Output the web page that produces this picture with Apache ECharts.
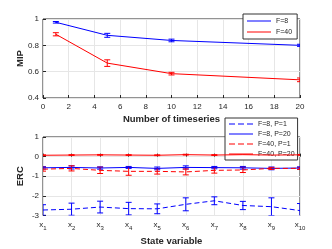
<!DOCTYPE html>
<html>
<head>
<meta charset="utf-8">
<script src="https://cdn.jsdelivr.net/npm/echarts@6/dist/echarts.min.js"></script>
<style>html,body{margin:0;padding:0;background:#fff}#c{width:332px;height:249px}</style>
</head>
<body>
<div id="c"></div>
<script>
// ---- Top panel data ----
var topX = [1, 5, 10, 20];
var mipF8 = [0.975, 0.876, 0.837, 0.80];
var mipF8Err = [0.006, 0.015, 0.01, 0.008];
var mipF40 = [0.884, 0.665, 0.585, 0.538];
var mipF40Err = [0.012, 0.025, 0.01, 0.014];
var topXTicks = [0, 2, 4, 6, 8, 10, 12, 14, 16, 18, 20];

// ---- Bottom panel data ----
var stateVars = ['1', '2', '3', '4', '5', '6', '7', '8', '9', '10'];
var ercF8P1 = [-2.72, -2.68, -2.57, -2.65, -2.66, -2.43, -2.25, -2.49, -2.55, -2.75];
var ercF8P1Err = [0.27, 0.31, 0.3, 0.32, 0.25, 0.33, 0.2, 0.21, 0.45, 0.36];
var ercF8P20 = [-0.57, -0.55, -0.58, -0.55, -0.6, -0.55, -0.56, -0.57, -0.6, -0.58];
var ercF8P20Err = [0.06, 0.08, 0.06, 0.05, 0.07, 0.08, 0.06, 0.07, 0.07, 0.06];
var ercF40P1 = [-0.64, -0.6, -0.7, -0.75, -0.75, -0.78, -0.7, -0.68, -0.6, -0.6];
var ercF40P1Err = [0.1, 0.13, 0.16, 0.2, 0.14, 0.15, 0.14, 0.13, 0.05, 0.05];
var ercF40P20 = [0.07, 0.08, 0.09, 0.08, 0.07, 0.1, 0.08, 0.1, 0.08, 0.09];
var ercF40P20Err = [0.02, 0.02, 0.02, 0.02, 0.02, 0.02, 0.02, 0.02, 0.02, 0.02];

var BLUE = '#0000ff', RED = '#ff0000';
var FONT = 'Liberation Sans';
var TXT = '#262626';
var DASH = [5, 3];

function errData(xs, ys, es) {
  return ys.map(function (y, i) { return [xs[i], y - es[i], y + es[i]]; });
}
function errSeries(name, data, color, xi, yi, cap) {
  return {
    type: 'custom', name: name, xAxisIndex: xi, yAxisIndex: yi, clip: true, z: 3,
    silent: true,
    renderItem: function (params, api) {
      var x = api.value(0);
      var lo = api.coord([x, api.value(1)]);
      var hi = api.coord([x, api.value(2)]);
      var st = { stroke: color, lineWidth: 1 };
      return {
        type: 'group', children: [
          { type: 'line', shape: { x1: lo[0], y1: lo[1], x2: hi[0], y2: hi[1] }, style: st },
          { type: 'line', shape: { x1: lo[0] - cap, y1: lo[1], x2: lo[0] + cap, y2: lo[1] }, style: st },
          { type: 'line', shape: { x1: hi[0] - cap, y1: hi[1], x2: hi[0] + cap, y2: hi[1] }, style: st }
        ]
      };
    },
    encode: { x: 0, y: [1, 2] },
    data: data
  };
}
function lineSeries(name, xs, ys, color, dashed, xi, yi) {
  return {
    type: 'line', name: name, xAxisIndex: xi, yAxisIndex: yi,
    data: ys.map(function (y, i) { return [xs[i], y]; }),
    symbol: 'none', z: 4,
    lineStyle: { color: color, width: 1, type: dashed ? DASH : 'solid' },
    itemStyle: { color: color }
  };
}
var DASH_ICON = 'path://M0,0h6v1h-6z M9,0h6v1h-6z M18,0h6v1h-6z';
function legendItem(name, color, dashed) {
  return { name: name, icon: dashed ? DASH_ICON : 'rect', itemStyle: { color: color, opacity: 1, borderWidth: 0 } };
}

var stateX = stateVars.map(function (s) { return Number(s); });

var axisLabelStyle = { fontFamily: FONT, fontSize: 8, color: TXT };
var gridLine = { show: true, lineStyle: { color: '#e6e6e6', width: 1 } };
var legendCommon = {
  orient: 'vertical', itemWidth: 24, itemHeight: 1, itemGap: 2,
  backgroundColor: '#fff', borderColor: '#333', borderWidth: 1, borderRadius: 0,
  textStyle: { fontFamily: FONT, fontSize: 7, color: TXT, lineHeight: 8 }
};

var option = {
  animation: false,
  backgroundColor: '#fff',
  grid: [
    { left: 43, top: 19, width: 257, height: 79, show: true, borderColor: '#262626', borderWidth: 1, backgroundColor: '#fff' },
    { left: 43, top: 137, width: 257, height: 78.5, show: true, borderColor: '#262626', borderWidth: 1, backgroundColor: '#fff' }
  ],
  xAxis: [
    {
      type: 'value', gridIndex: 0, min: 0, max: 20, interval: 2,
      axisLine: { show: false }, axisTick: { show: true, inside: true, length: 3, lineStyle: { color: '#262626' } },
      splitLine: gridLine,
      axisLabel: Object.assign({ margin: 5, formatter: function (v) { return topXTicks.indexOf(v) >= 0 ? String(v) : ''; } }, axisLabelStyle),
      name: 'Number of timeseries', nameLocation: 'middle', nameGap: 16,
      nameTextStyle: { fontFamily: FONT, fontSize: 9.5, fontWeight: 'bold', color: TXT }
    },
    {
      type: 'value', gridIndex: 1, min: 1, max: 10, interval: 1,
      axisLine: { show: false }, axisTick: { show: true, inside: true, length: 3, lineStyle: { color: '#262626' } },
      splitLine: gridLine,
      axisLabel: {
        margin: 5,
        formatter: function (v) { return '{a|x}{b|' + stateVars[v - 1] + '}'; },
        rich: {
          a: { fontFamily: FONT, fontSize: 8, color: TXT, padding: [0, 0, 3, 0] },
          b: { fontFamily: FONT, fontSize: 6, color: TXT, verticalAlign: 'bottom' }
        }
      },
      name: 'State variable', nameLocation: 'middle', nameGap: 21,
      nameTextStyle: { fontFamily: FONT, fontSize: 9.5, fontWeight: 'bold', color: TXT }
    }
  ],
  yAxis: [
    {
      type: 'value', gridIndex: 0, min: 0.4, max: 1, interval: 0.2,
      axisLine: { show: false }, axisTick: { show: true, inside: true, length: 3, lineStyle: { color: '#262626' } },
      splitLine: gridLine,
      axisLabel: Object.assign({ margin: 4, formatter: function (v) { return v === 1 ? '1' : v.toFixed(1); } }, axisLabelStyle),
      name: 'MIP', nameLocation: 'middle', nameGap: 18, nameMoveOverlap: false,
      nameTextStyle: { fontFamily: FONT, fontSize: 9.5, fontWeight: 'bold', color: TXT }
    },
    {
      type: 'value', gridIndex: 1, min: -3, max: 1, interval: 1,
      axisLine: { show: false }, axisTick: { show: true, inside: true, length: 3, lineStyle: { color: '#262626' } },
      splitLine: gridLine,
      axisLabel: Object.assign({ margin: 4 }, axisLabelStyle),
      name: 'ERC', nameLocation: 'middle', nameGap: 18, nameMoveOverlap: false,
      nameTextStyle: { fontFamily: FONT, fontSize: 9.5, fontWeight: 'bold', color: TXT }
    }
  ],
  legend: [
    Object.assign({}, legendCommon, {
      data: [legendItem('F=8', BLUE, false), legendItem('F=40', RED, false)],
      left: 243, top: 14, itemGap: 3, padding: [3, 5, 3, 4]
    }),
    Object.assign({}, legendCommon, {
      data: [legendItem('F=8, P=1', BLUE, true), legendItem('F=8, P=20', BLUE, false),
             legendItem('F=40, P=1', RED, true), legendItem('F=40, P=20', RED, false)],
      left: 225, top: 118, padding: [2, 3, 2, 4]
    })
  ],
  series: [
    lineSeries('F=8', topX, mipF8, BLUE, false, 0, 0),
    errSeries('F=8 err', errData(topX, mipF8, mipF8Err), BLUE, 0, 0, 3),
    lineSeries('F=40', topX, mipF40, RED, false, 0, 0),
    errSeries('F=40 err', errData(topX, mipF40, mipF40Err), RED, 0, 0, 3),

    lineSeries('F=8, P=1', stateX, ercF8P1, BLUE, true, 1, 1),
    errSeries('e1', errData(stateX, ercF8P1, ercF8P1Err), BLUE, 1, 1, 3),
    lineSeries('F=8, P=20', stateX, ercF8P20, BLUE, false, 1, 1),
    errSeries('e2', errData(stateX, ercF8P20, ercF8P20Err), BLUE, 1, 1, 3),
    lineSeries('F=40, P=1', stateX, ercF40P1, RED, true, 1, 1),
    errSeries('e3', errData(stateX, ercF40P1, ercF40P1Err), RED, 1, 1, 3),
    lineSeries('F=40, P=20', stateX, ercF40P20, RED, false, 1, 1),
    errSeries('e4', errData(stateX, ercF40P20, ercF40P20Err), RED, 1, 1, 3)
  ]
};
var chart = echarts.init(document.getElementById('c'), null, { renderer: 'canvas' });
chart.setOption(option);
</script>
</body>
</html>
